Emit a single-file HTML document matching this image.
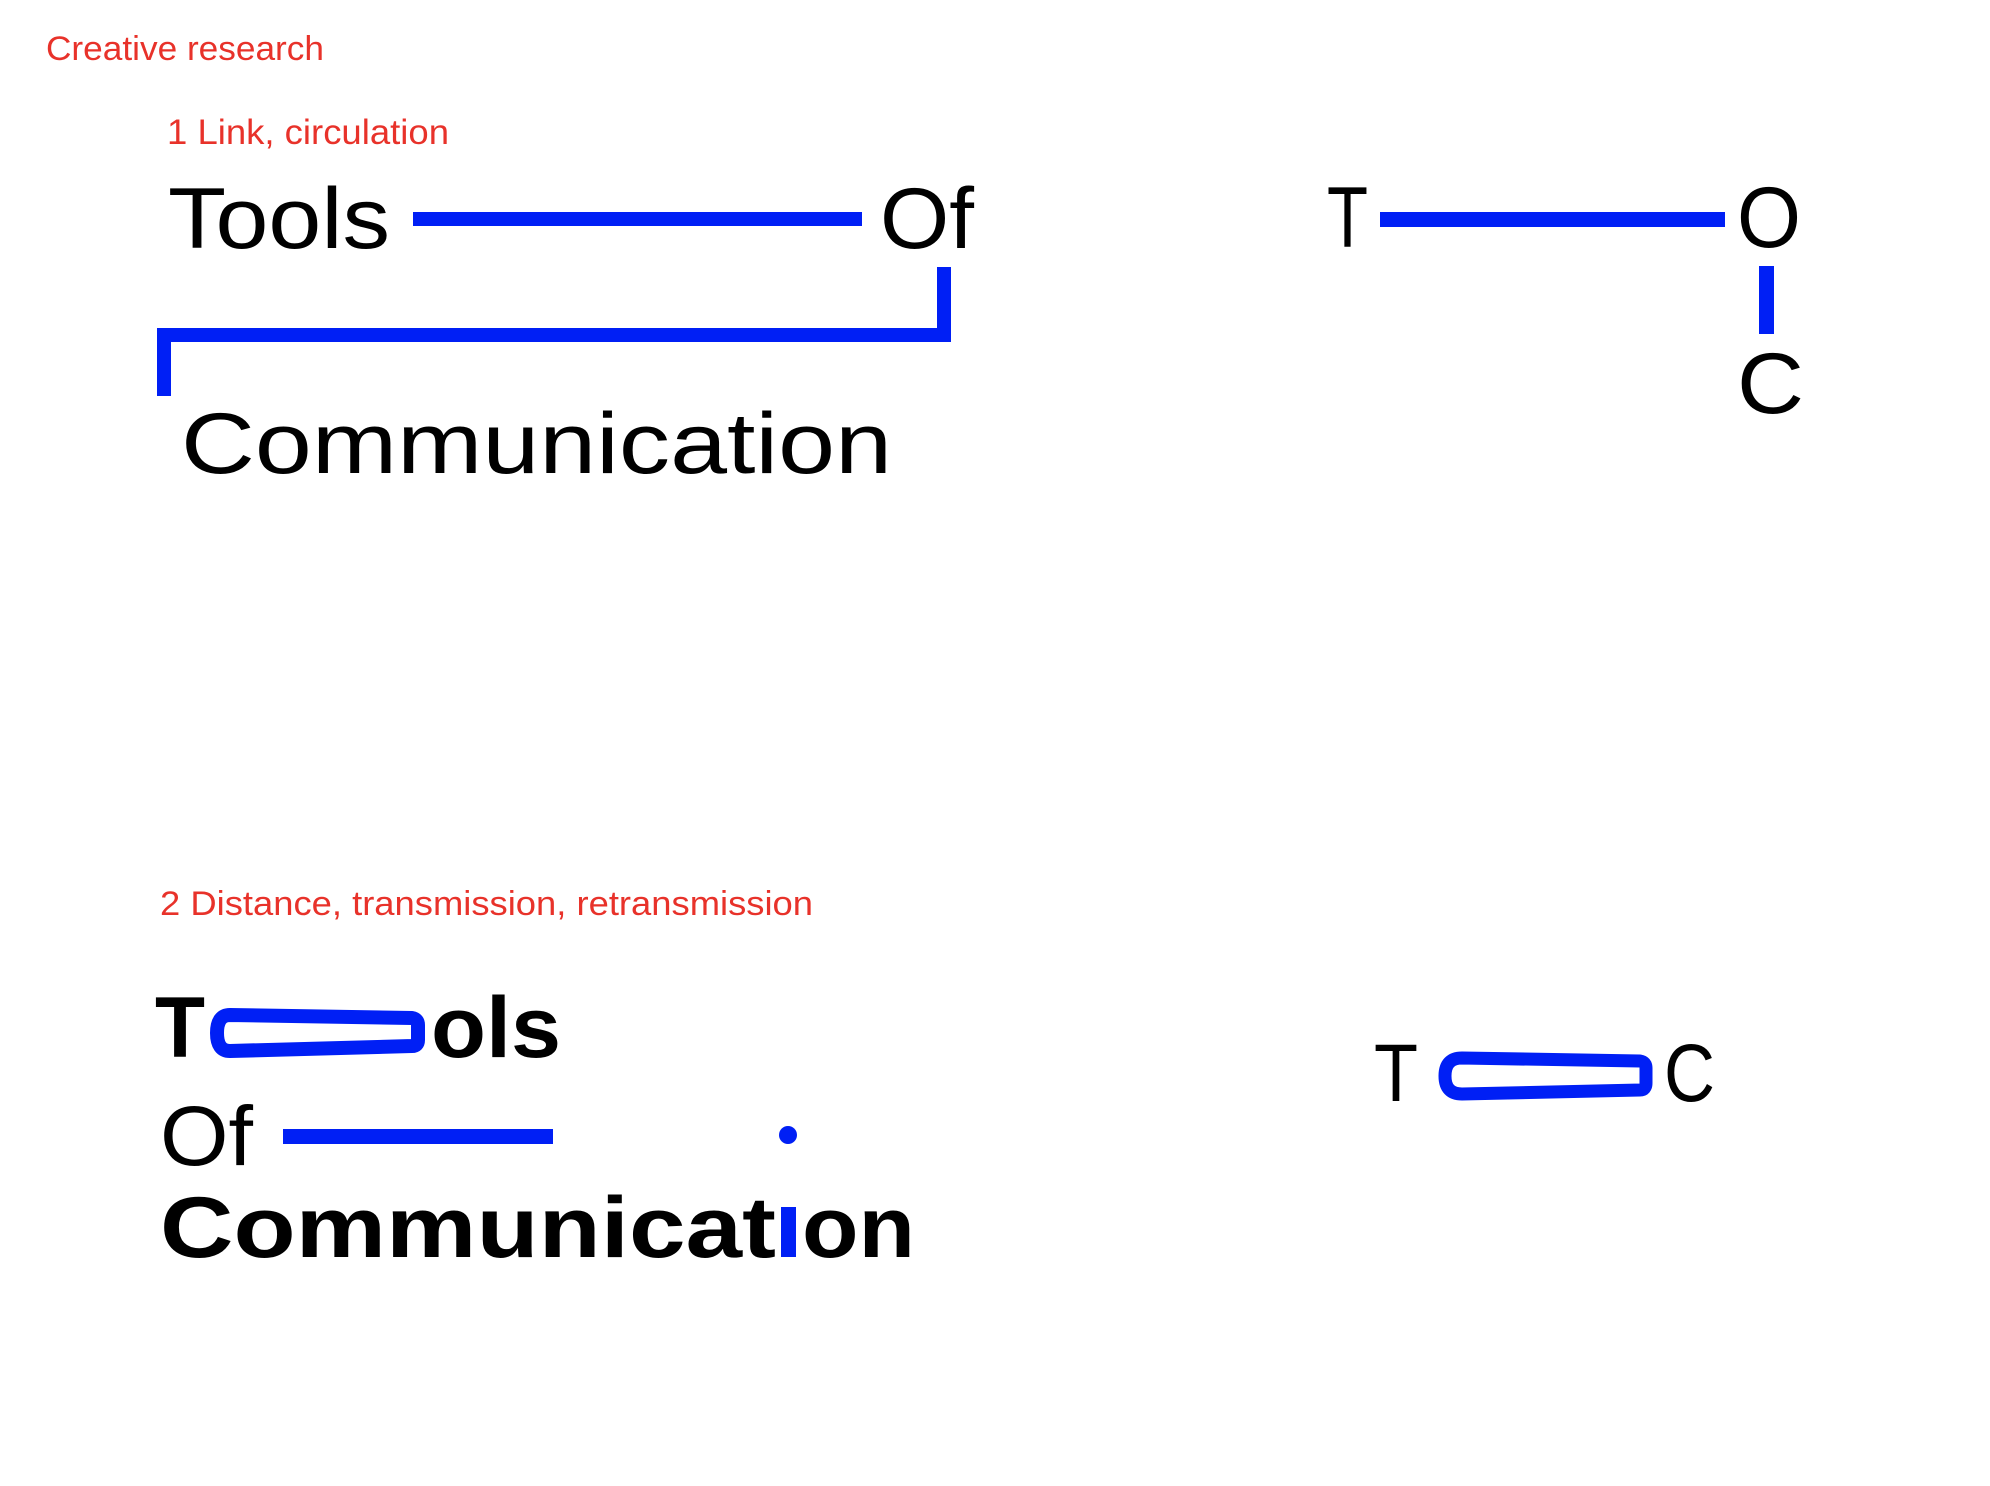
<!DOCTYPE html>
<html><head><meta charset="utf-8"><style>
html,body{margin:0;padding:0;background:#fff;}
svg{display:block;}
text{font-family:"Liberation Sans","DejaVu Sans",sans-serif;}
.r{fill:#e8322a;}
</style></head><body>
<svg width="1990" height="1486" viewBox="0 0 1990 1486" xmlns="http://www.w3.org/2000/svg">
<rect width="1990" height="1486" fill="#fff"/>
<text class="r" x="46" y="60" font-size="34" textLength="278" lengthAdjust="spacingAndGlyphs">Creative research</text>
<text class="r" x="167" y="144" font-size="35" textLength="282" lengthAdjust="spacingAndGlyphs">1 Link, circulation</text>

<text x="168" y="248" font-size="86" textLength="222" lengthAdjust="spacingAndGlyphs">Tools</text>
<rect x="413" y="212" width="449" height="14" fill="#001ff5"/>
<text x="880" y="248" font-size="86" textLength="94" lengthAdjust="spacingAndGlyphs">Of</text>
<path d="M944,267 V335 H164 V396" fill="none" stroke="#001ff5" stroke-width="14"/>
<text x="181" y="473" font-size="86" textLength="711" lengthAdjust="spacingAndGlyphs">Communication</text>

<text x="1327" y="247" font-size="86" textLength="41" lengthAdjust="spacingAndGlyphs">T</text>
<rect x="1380" y="212" width="345" height="15" fill="#001ff5"/>
<text x="1737" y="247" font-size="86" textLength="64" lengthAdjust="spacingAndGlyphs">O</text>
<rect x="1759" y="266" width="15" height="68" fill="#001ff5"/>
<text x="1737" y="413" font-size="86" textLength="67" lengthAdjust="spacingAndGlyphs">C</text>

<text class="r" x="160" y="915" font-size="34" textLength="653" lengthAdjust="spacingAndGlyphs">2 Distance, transmission, retransmission</text>

<text x="155" y="1057" font-size="86" font-weight="bold" textLength="50" lengthAdjust="spacingAndGlyphs">T</text>
<path d="M230,1015 L412,1018 Q418,1019 418,1025 L418,1040 Q418,1046 412,1046 L230,1051 Q217,1051 217,1033 Q217,1015 230,1015 Z" fill="none" stroke="#001ff5" stroke-width="14" stroke-linejoin="round"/>
<text x="431" y="1057" font-size="86" font-weight="bold" textLength="130" lengthAdjust="spacingAndGlyphs">ols</text>

<text x="160" y="1165" font-size="84" textLength="93" lengthAdjust="spacingAndGlyphs">Of</text>
<rect x="283" y="1129" width="270" height="15" fill="#001ff5"/>
<ellipse cx="788" cy="1135" rx="9" ry="9" fill="#001ff5"/>

<text x="160" y="1257" font-size="86" font-weight="bold" textLength="616" lengthAdjust="spacingAndGlyphs">Communicat</text>
<rect x="781" y="1207" width="15" height="50" fill="#001ff5"/>
<text x="802" y="1257" font-size="86" font-weight="bold" textLength="113" lengthAdjust="spacingAndGlyphs">on</text>

<text x="1374" y="1101" font-size="82" textLength="44" lengthAdjust="spacingAndGlyphs">T</text>
<path d="M1462,1058 L1640,1061 Q1646,1062 1646,1068 L1646,1083 Q1646,1090 1640,1090 L1462,1094 Q1445,1094 1445,1076 Q1445,1058 1462,1058 Z" fill="none" stroke="#001ff5" stroke-width="13" stroke-linejoin="round"/>
<text x="1664" y="1101" font-size="82" textLength="51" lengthAdjust="spacingAndGlyphs">C</text>
</svg>
</body></html>
